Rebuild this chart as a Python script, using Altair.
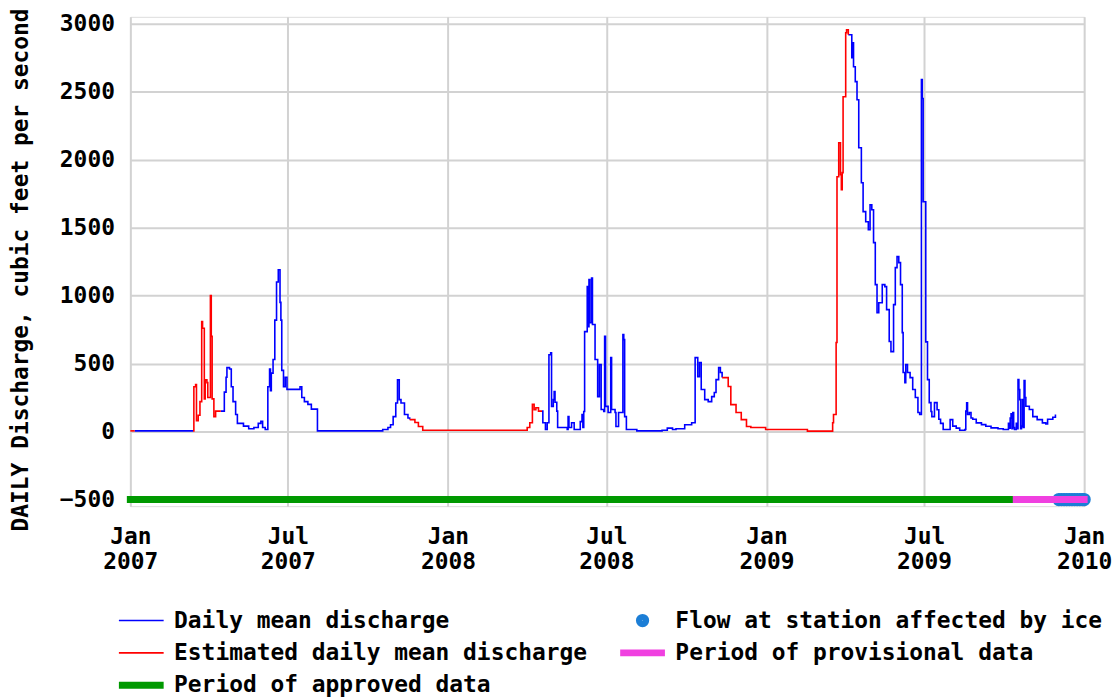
import altair as alt
import pandas as pd

dates_2007 = ["2007-01-01", "2007-01-06", "2007-03-14", "2007-03-15", "2007-03-17", "2007-03-18",
              "2007-03-20", "2007-03-22", "2007-03-24", "2007-03-25", "2007-03-27", "2007-03-28",
              "2007-03-30", "2007-03-31", "2007-04-03", "2007-04-04", "2007-04-05", "2007-04-07",
              "2007-04-09", "2007-04-15", "2007-04-19", "2007-04-21", "2007-04-22", "2007-04-25",
              "2007-04-27", "2007-04-29", "2007-05-02", "2007-05-04", "2007-05-11", "2007-05-17",
              "2007-05-23", "2007-05-28", "2007-05-31", "2007-06-02", "2007-06-05", "2007-06-08",
              "2007-06-10", "2007-06-11", "2007-06-12", "2007-06-14", "2007-06-16", "2007-06-18",
              "2007-06-20", "2007-06-22", "2007-06-23", "2007-06-24", "2007-06-26", "2007-06-28",
              "2007-06-30", "2007-07-15", "2007-07-17", "2007-07-20", "2007-07-24", "2007-07-28",
              "2007-08-04", "2007-10-18", "2007-10-24", "2007-10-27", "2007-10-30", "2007-11-02",
              "2007-11-04", "2007-11-06", "2007-11-08", "2007-11-12", "2007-11-16", "2007-11-18",
              "2007-11-24", "2007-11-28", "2007-12-03"]
flows_2007 = [5, 5, 5, 330, 345, 80, 120, 220, 810, 760, 240, 380, 360, 250, 1000, 700, 240, 110,
              150, 150, 290, 400, 470, 460, 330, 220, 125, 60, 40, 20, 30, 60, 75, 30, 15, 330,
              460, 300, 430, 530, 820, 1100, 1190, 950, 820, 450, 330, 400, 310, 330, 250, 220,
              200, 165, 5, 15, 30, 50, 110, 210, 380, 235, 210, 125, 100, 88, 66, 37, 10]

dates_2008 = ["2008-03-30", "2008-04-01", "2008-04-04", "2008-04-07", "2008-04-09", "2008-04-11",
              "2008-04-14", "2008-04-18", "2008-04-19", "2008-04-22", "2008-04-24", "2008-04-26",
              "2008-04-28", "2008-04-29", "2008-05-01", "2008-05-02", "2008-05-03", "2008-05-05",
              "2008-05-06", "2008-05-17", "2008-05-18", "2008-05-19", "2008-05-22", "2008-05-25",
              "2008-06-01", "2008-06-03", "2008-06-04", "2008-06-05", "2008-06-06", "2008-06-09",
              "2008-06-10", "2008-06-11", "2008-06-12", "2008-06-14", "2008-06-15", "2008-06-18",
              "2008-06-21", "2008-06-23", "2008-06-25", "2008-06-28", "2008-06-29", "2008-06-30",
              "2008-07-03", "2008-07-06", "2008-07-07", "2008-07-11", "2008-07-12", "2008-07-15",
              "2008-07-20", "2008-07-21", "2008-07-22", "2008-07-24", "2008-08-05", "2008-09-03",
              "2008-09-09", "2008-09-15", "2008-09-19", "2008-09-29", "2008-10-07", "2008-10-11",
              "2008-10-14", "2008-10-16", "2008-10-18", "2008-10-22", "2008-10-26", "2008-10-30",
              "2008-11-02", "2008-11-04", "2008-11-07", "2008-11-09", "2008-11-11", "2008-11-18",
              "2008-11-21", "2008-11-27", "2008-12-03", "2008-12-09", "2008-12-14", "2008-12-31"]
flows_2008 = [10, 30, 65, 200, 160, 175, 150, 150, 65, 15, 65, 565, 580, 185, 235, 295, 215, 150,
              30, 15, 110, 30, 65, 15, 73, 125, 30, 147, 735, 1066, 772, 1118, 800, 1130, 787, 530,
              257, 492, 162, 147, 700, 185, 140, 544, 162, 140, 37, 140, 713, 676, 110, 15, 5, 10,
              25, 15, 20, 50, 65, 544, 404, 507, 309, 235, 220, 257, 287, 382, 470, 434, 397, 331,
              198, 140, 88, 37, 30, 15]

dates_2009 = ["2009-02-17", "2009-03-16", "2009-03-18", "2009-03-19", "2009-03-22", "2009-03-23",
              "2009-03-25", "2009-03-27", "2009-03-28", "2009-03-29", "2009-03-30", "2009-04-02",
              "2009-04-03", "2009-04-05", "2009-04-09", "2009-04-10", "2009-04-11", "2009-04-13",
              "2009-04-15", "2009-04-17", "2009-04-20", "2009-04-22", "2009-04-25", "2009-04-28",
              "2009-04-30", "2009-05-02", "2009-05-04", "2009-05-06", "2009-05-08", "2009-05-10",
              "2009-05-14", "2009-05-17", "2009-05-19", "2009-05-22", "2009-05-24", "2009-05-27",
              "2009-05-29", "2009-05-31", "2009-06-02", "2009-06-04", "2009-06-06", "2009-06-07",
              "2009-06-09", "2009-06-10", "2009-06-12", "2009-06-15", "2009-06-18", "2009-06-21",
              "2009-06-24", "2009-06-26", "2009-06-28", "2009-06-29", "2009-06-30", "2009-07-03",
              "2009-07-05", "2009-07-07", "2009-07-09", "2009-07-10", "2009-07-13", "2009-07-16",
              "2009-07-18", "2009-07-20", "2009-07-23", "2009-07-31", "2009-08-03", "2009-08-07",
              "2009-08-11", "2009-08-17", "2009-08-18", "2009-08-19", "2009-08-20", "2009-08-22",
              "2009-08-24", "2009-08-26", "2009-08-30", "2009-09-05", "2009-09-10", "2009-09-16",
              "2009-09-24", "2009-09-30", "2009-10-05", "2009-10-06", "2009-10-07", "2009-10-08",
              "2009-10-09", "2009-10-10", "2009-10-11", "2009-10-12", "2009-10-13", "2009-10-15",
              "2009-10-16", "2009-10-17", "2009-10-18", "2009-10-19", "2009-10-20", "2009-10-21",
              "2009-10-22", "2009-10-23", "2009-10-24", "2009-10-25", "2009-10-26", "2009-10-30",
              "2009-11-03", "2009-11-08", "2009-11-14", "2009-11-18", "2009-11-20", "2009-11-26",
              "2009-11-29"]
flows_2009 = [3, 3, 65, 125, 655, 1875, 2125, 1890, 1780, 1905, 2463, 2934, 2956, 2919, 2750, 2860,
              2684, 2574, 2441, 2088, 1830, 1618, 1544, 1485, 1669, 1632, 1390, 1081, 875, 948,
              1081, 1066, 897, 662, 588, 934, 1206, 1287, 1243, 1081, 728, 434, 360, 492, 434, 397,
              309, 250, 140, 125, 2590, 2450, 1690, 660, 382, 213, 147, 110, 213, 160, 90, 60, 15,
              88, 40, 25, 10, 15, 150, 211, 125, 140, 100, 90, 64, 51, 39, 27, 20, 15, 15, 60, 25,
              100, 130, 20, 140, 30, 15, 60, 20, 382, 309, 235, 20, 40, 235, 30, 375, 250, 186, 162,
              110, 88, 64, 55, 90, 105, 125]

# periods in which the daily values are estimated [start, end)
estimated_periods = [("2007-01-01", "2007-01-06"), ("2007-03-14", "2007-04-15"),
                     ("2007-11-18", "2008-04-18"), ("2008-11-11", "2009-04-05")]

ice_dates = ["2009-12-03", "2009-12-06", "2009-12-09", "2009-12-12", "2009-12-15", "2009-12-18",
             "2009-12-21", "2009-12-24", "2009-12-27", "2009-12-30", "2010-01-01"]
approved_period = ["2007-01-01", "2009-10-15"]
provisional_period = ["2009-10-15", "2010-01-01"]
period_level = -500

DAILY = "Daily mean discharge"
EST = "Estimated daily mean discharge"
ICE = "Flow at station affected by ice"
PROV = "Period of provisional data"
APPR = "Period of approved data"
legend_order = [DAILY, EST, APPR, ICE, PROV]
legend_colors = ["#0000ff", "#ff0000", "#009900", "#1c7ed6", "#f040e0"]
legend_shapes = ["stroke", "stroke", "stroke", "circle", "stroke"]
legend_sizes = [2025, 2025, 2025, 40, 2025]
legend_widths = [1.6, 1.6, 7, 7, 7]
COL = dict(zip(legend_order, legend_colors))

# ---------------- build tables ----------------
dates = dates_2007 + dates_2008 + dates_2009
flows = flows_2007 + flows_2008 + flows_2009


def is_est(d):
    return any(s <= d < e for s, e in estimated_periods)


rows = []
seg = 0
prev = None
for d, v in zip(dates, flows):
    s = EST if is_est(d) else DAILY
    if prev is not None and s != prev:
        rows.append({"date": d, "flow": v, "series": prev, "seg": seg})
        seg += 1
    rows.append({"date": d, "flow": v, "series": s, "seg": seg})
    prev = s
flow_df = pd.DataFrame(rows)

approved_df = pd.DataFrame({"date": approved_period, "flow": [period_level] * 2, "series": APPR})
prov_df = pd.DataFrame({"date": provisional_period, "flow": [period_level] * 2, "series": PROV})
ice_df = pd.DataFrame({"date": ice_dates, "flow": [period_level] * len(ice_dates), "series": ICE})

# ---------------- chart ----------------
FONT = "DejaVu Sans Mono"
FS = 23

x_scale = alt.Scale(type="utc", domain=[alt.DateTime(year=2007, month=1, date=1, utc=True),
                                        alt.DateTime(year=2010, month=1, date=1, utc=True)])
y_scale = alt.Scale(domain=[-549, 3051], nice=False, zero=False)

x_ticks = [alt.DateTime(year=y, month=m, date=1, utc=True)
           for y in (2007, 2008, 2009) for m in (1, 7)] + [alt.DateTime(year=2010, month=1, date=1, utc=True)]

x_axis = alt.Axis(values=x_ticks, title=None, grid=True, gridColor="#d2d2d2", gridWidth=2,
                  ticks=False, domain=False, labelFont=FONT, labelFontSize=FS, labelFontWeight="bold",
                  labelColor="#000", labelPadding=20, labelLineHeight=25, labelAngle=0,
                  labelExpr="[utcFormat(datum.value, '%b'), utcFormat(datum.value, '%Y')]",
                  labelOverlap=False, labelFlush=False)
y_axis = alt.Axis(values=[-500, 0, 500, 1000, 1500, 2000, 2500, 3000], format="d",
                  title="DAILY Discharge, cubic feet per second", grid=True, gridColor="#d2d2d2",
                  gridWidth=2, ticks=False, domain=False, labelFont=FONT, labelFontSize=FS,
                  labelFontWeight="bold", labelColor="#000", labelPadding=16,
                  titleFont=FONT, titleFontSize=FS, titleFontWeight="bold", titleColor="#000",
                  titleX=-110, titleY=254, titleBaseline="middle", labelOverlap=False)

X = alt.X("date:T", scale=x_scale, axis=x_axis)
XP = alt.X("date:T", scale=x_scale)
YP = alt.Y("flow:Q", scale=y_scale)

daily = alt.Chart(flow_df).transform_filter(alt.datum.series == DAILY).mark_line(
    interpolate="step-after", strokeWidth=1.6, color=COL[DAILY]).encode(
    x=X, y=alt.Y("flow:Q", scale=y_scale, axis=y_axis), detail="seg:N")

estimated = alt.Chart(flow_df).transform_filter(alt.datum.series == EST).mark_line(
    interpolate="step-after", strokeWidth=1.6, color=COL[EST]).encode(
    x=XP, y=YP, detail="seg:N")

ice = alt.Chart(ice_df).mark_point(filled=False, opacity=1).encode(
    x=XP, y=YP,
    color=alt.Color("series:N", scale=alt.Scale(domain=legend_order, range=legend_colors),
                    legend=alt.Legend(
                        title=None, orient="none", legendX=-15, legendY=595, columns=2,
                        columnPadding=29, rowPadding=8.5, clipHeight=24, labelFont=FONT,
                        labelFontSize=FS, labelFontWeight="bold", labelColor="#000",
                        labelLimit=800, labelOffset=7, padding=0, symbolOpacity=1)),
    shape=alt.Shape("series:N", scale=alt.Scale(domain=legend_order, range=legend_shapes)),
    size=alt.Size("series:N", scale=alt.Scale(type="ordinal", domain=legend_order,
                                              range=legend_sizes)),
    strokeWidth=alt.StrokeWidth("series:N", scale=alt.Scale(type="ordinal", domain=legend_order,
                                                            range=legend_widths)),
)

approved = alt.Chart(approved_df).mark_line(strokeWidth=7, strokeCap="square", color=COL[APPR]).encode(
    x=XP, y=YP)
provisional = alt.Chart(prov_df).mark_line(strokeWidth=7, strokeCap="square", color=COL[PROV]).encode(
    x=XP, y=YP)

chart = alt.layer(daily, estimated, ice, approved, provisional).properties(
    width=959, height=492,
    padding={"left": 123, "top": 7, "right": 28, "bottom": 191},
    autosize=alt.AutoSizeParams(type="none"),
).configure_view(stroke="#333333", strokeWidth=2).configure(background="white")

chart.save("out.html", embed_options={"renderer": "svg", "actions": False})
